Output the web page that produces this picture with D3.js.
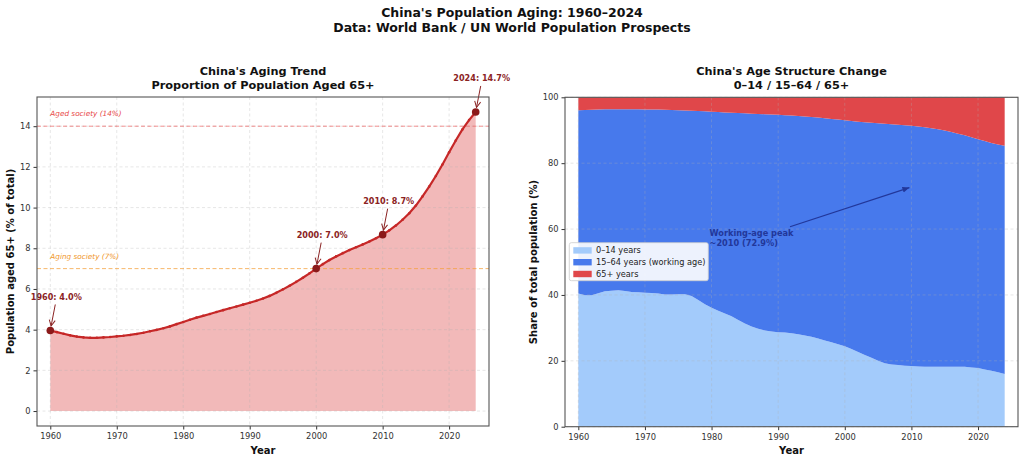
<!DOCTYPE html>
<html><head><meta charset="utf-8">
<script src="https://cdn.jsdelivr.net/npm/d3@7"></script>
<style>body{margin:0;background:#fff}svg{display:block}text{font-family:"DejaVu Sans",sans-serif}</style>
</head><body><svg id="c" width="1024" height="463"></svg>
<script>
// ---------------- DATA ----------------
const years = d3.range(1960, 2025);
const pct65 = [3.96,3.88,3.80,3.72,3.66,3.62,3.60,3.60,3.62,3.64,
  3.67,3.70,3.74,3.79,3.85,3.92,3.99,4.07,4.16,4.27,
  4.38,4.49,4.59,4.68,4.77,4.87,4.96,5.05,5.14,5.23,
  5.32,5.42,5.53,5.66,5.81,5.98,6.16,6.35,6.55,6.77,
  7.00,7.22,7.42,7.60,7.76,7.91,8.05,8.19,8.33,8.49,
  8.67,8.88,9.12,9.40,9.72,10.10,10.55,11.03,11.55,12.12,
  12.72,13.30,13.84,14.30,14.70];
const pct0_14 = [40.4,39.9,39.9,40.5,41.1,41.3,41.4,41.2,40.9,40.8,
  40.7,40.6,40.4,40.1,40.1,40.2,40.2,39.7,38.5,37.2,
  36.1,35.2,34.4,33.5,32.4,31.3,30.4,29.7,29.2,28.9,
  28.7,28.6,28.4,28.1,27.7,27.3,26.8,26.2,25.6,25.0,
  24.4,23.6,22.7,21.8,20.9,20.0,19.3,18.9,18.7,18.5,
  18.4,18.3,18.2,18.2,18.2,18.2,18.2,18.2,18.2,18.0,
  17.8,17.4,17.0,16.5,16.0];
const pct15_64 = [55.64,56.22,56.30,55.78,55.24,55.08,55.00,55.20,55.48,55.56,
  55.63,55.70,55.86,56.11,56.05,55.88,55.81,56.23,57.34,58.53,
  59.52,60.31,61.01,61.82,62.83,63.83,64.64,65.25,65.66,65.87,
  65.98,65.98,66.07,66.24,66.49,66.72,67.04,67.45,67.85,68.23,
  68.60,69.18,69.88,70.60,71.34,72.09,72.65,72.91,72.97,73.01,
  72.93,72.82,72.68,72.40,72.08,71.70,71.25,70.77,70.25,69.88,
  69.48,69.30,69.16,69.20,69.30];
const keyYears = [1960, 2000, 2010, 2024];
const thresholds = [14, 7];
const thresholdLabels = ["Aged society (14%)", "Aging society (7%)"];
const xTickValues = [1960,1970,1980,1990,2000,2010,2020];
const yTicksLeft = [0,2,4,6,8,10,12,14];
const yTicksRight = [0,20,40,60,80,100];
const seriesKeys = ["young","working","old"];
const seriesLabels = ["0–14 years","15–64 years (working age)","65+ years"];
const peakYear = 2010, peakValue = 72.9;
const peakLabel = ["Working-age peak", "~2010 (72.9%)"];

// ---------------- STYLE ----------------
const svg = d3.select("#c");
const seriesColors = ["#a3cbfb","#4779ec","#e0474a"];
const thrColors = ["#ef6a6a","#f5a03a"];
const thrTextColors = ["#e84848","#f0962a"];

svg.append("text").attr("x",512).attr("y",17).attr("text-anchor","middle")
  .attr("font-size",12.5).attr("font-weight","bold").attr("fill","#111").text("China's Population Aging: 1960–2024");
svg.append("text").attr("x",512).attr("y",31.6).attr("text-anchor","middle")
  .attr("font-size",12.5).attr("font-weight","bold").attr("fill","#111").text("Data: World Bank / UN World Population Prospects");

const defs = svg.append("defs");
defs.append("marker").attr("id","arrRed").attr("viewBox","0 0 8 8").attr("refX",7).attr("refY",4)
  .attr("markerWidth",8).attr("markerHeight",8).attr("markerUnits","userSpaceOnUse").attr("orient","auto")
  .append("path").attr("d","M1,1 L7,4 L1,7").attr("fill","none").attr("stroke","#8b2323").attr("stroke-width",1);
defs.append("marker").attr("id","arrBlue").attr("viewBox","0 0 8 8").attr("refX",7).attr("refY",4)
  .attr("markerWidth",8).attr("markerHeight",8).attr("markerUnits","userSpaceOnUse").attr("orient","auto")
  .append("path").attr("d","M0,1 L7,4 L0,7 Z").attr("fill","#22379a");

function grid(g, x, y, xt, yt, x0, x1, y0, y1){
  const gg = g.append("g").attr("stroke","#b0b0b0").attr("stroke-opacity",0.4).attr("stroke-dasharray","3,2.5").attr("stroke-width",0.8);
  xt.forEach(t=>gg.append("line").attr("x1",x(t)).attr("x2",x(t)).attr("y1",y0).attr("y2",y1));
  yt.forEach(t=>gg.append("line").attr("y1",y(t)).attr("y2",y(t)).attr("x1",x0).attr("x2",x1));
}
function axes(g, x, y, yt, x0, x1, y0, y1){
  const ax = g.append("g").attr("transform",`translate(0,${y1})`)
    .call(d3.axisBottom(x).tickValues(xTickValues).tickFormat(d3.format("d")).tickSize(3.5).tickPadding(3.5));
  const ay = g.append("g").attr("transform",`translate(${x0},0)`)
    .call(d3.axisLeft(y).tickValues(yt).tickFormat(d3.format("d")).tickSize(3.5).tickPadding(3));
  [ax,ay].forEach(a=>{
    a.select(".domain").remove();
    a.selectAll("line").attr("stroke","#333");
    a.selectAll("text").attr("font-size",8.3).attr("fill","#333").attr("font-family","DejaVu Sans");
  });
  g.append("rect").attr("x",x0).attr("y",y0).attr("width",x1-x0).attr("height",y1-y0)
    .attr("fill","none").attr("stroke","#555").attr("stroke-width",1.1);
}

// ---------------- LEFT CHART ----------------
{
  const x0=37, x1=489, y0=97, y1=426;
  const x = d3.scaleLinear().domain([1958,2026]).range([x0,x1]);
  const y = d3.scaleLinear().domain([-0.735,15.435]).range([y1,y0]);
  const g = svg.append("g");
  const data = years.map((yr,i)=>({yr, v:pct65[i]}));

  g.append("path").datum(data).attr("fill","#e57373").attr("fill-opacity",0.5)
    .attr("d", d3.area().x(d=>x(d.yr)).y0(y(0)).y1(d=>y(d.v)));
  grid(g, x, y, xTickValues, yTicksLeft, x0, x1, y0, y1);

  thresholds.forEach((t,i)=>{
    g.append("line").attr("x1",x0).attr("x2",x1).attr("y1",y(t)).attr("y2",y(t))
      .attr("stroke",thrColors[i]).attr("stroke-opacity",0.75).attr("stroke-width",1).attr("stroke-dasharray","4,2.5");
    g.append("text").attr("x",x(1960)).attr("y",y(t)-10).attr("font-size",7.3).attr("font-style","italic")
      .attr("fill",thrTextColors[i]).text(thresholdLabels[i]);
  });

  g.append("path").datum(data).attr("fill","none").attr("stroke","#c62828").attr("stroke-width",2.2)
    .attr("d", d3.line().x(d=>x(d.yr)).y(d=>y(d.v)));
  g.selectAll(".m").data(data).join("circle").attr("cx",d=>x(d.yr)).attr("cy",d=>y(d.v)).attr("r",1.3).attr("fill","#c62828");

  keyYears.forEach(k=>{
    const d = data.find(e=>e.yr===k);
    const px=x(d.yr), py=y(d.v);
    g.append("circle").attr("cx",px).attr("cy",py).attr("r",3.8).attr("fill","#8b1a1a");
    g.append("line").attr("x1",px+5).attr("y1",py-26).attr("x2",px+0.8).attr("y2",py-4.5)
      .attr("stroke","#8b2323").attr("stroke-width",1).attr("marker-end","url(#arrRed)");
    g.append("text").attr("x",px+6).attr("y",py-30.5).attr("text-anchor","middle").attr("font-size",8.1)
      .attr("font-weight","bold").attr("fill","#8b2323").text(`${k}: ${d.v.toFixed(1)}%`);
  });

  axes(g, x, y, yTicksLeft, x0, x1, y0, y1);
  g.append("text").attr("x",(x0+x1)/2).attr("y",70.7).attr("dy","0.35em").attr("text-anchor","middle")
    .attr("font-size",11.3).attr("font-weight","bold").attr("fill","#111").text("China's Aging Trend");
  g.append("text").attr("x",(x0+x1)/2).attr("y",85).attr("dy","0.35em").attr("text-anchor","middle")
    .attr("font-size",11.3).attr("font-weight","bold").attr("fill","#111").text("Proportion of Population Aged 65+");
  g.append("text").attr("x",(x0+x1)/2).attr("y",454).attr("text-anchor","middle")
    .attr("font-size",10).attr("font-weight","bold").attr("fill","#111").text("Year");
  g.append("text").attr("transform",`translate(14.3,${(y0+y1)/2}) rotate(-90)`).attr("text-anchor","middle")
    .attr("font-size",10).attr("font-weight","bold").attr("fill","#111").text("Population aged 65+ (% of total)");
}

// ---------------- RIGHT CHART ----------------
{
  const x0=565, x1=1018, y0=97.3, y1=426.7;
  const x = d3.scaleLinear().domain([1958,2026]).range([x0,x1]);
  const y = d3.scaleLinear().domain([0,100]).range([y1,y0]);
  const g = svg.append("g");
  const table = years.map((yr,i)=>({yr, young:pct0_14[i], working:pct15_64[i], old:pct65[i]}));
  const stacked = d3.stack().keys(seriesKeys)(table);
  const area = d3.area().x(d=>x(d.data.yr)).y0(d=>y(d[0])).y1(d=>y(d[1]));
  g.selectAll(".a").data(stacked).join("path").attr("fill",(d,i)=>seriesColors[i]).attr("d",area);

  grid(g, x, y, xTickValues, yTicksRight, x0, x1, y0, y1);

  // annotation
  g.append("line").attr("x1",790).attr("y1",226.7).attr("x2",x(peakYear)-2).attr("y2",y(peakValue)+1)
    .attr("stroke","#22379a").attr("stroke-width",1.2).attr("marker-end","url(#arrBlue)");
  peakLabel.forEach((t,i)=>{
    g.append("text").attr("x",x(1980)-2).attr("y",236.3+i*9.6).attr("font-size",8.2).attr("font-weight","bold")
      .attr("fill","#22379a").text(t);
  });

  // legend
  const lg = g.append("g");
  lg.append("rect").attr("x",569.3).attr("y",242.7).attr("width",139).attr("height",38).attr("rx",2)
    .attr("fill","#fff").attr("fill-opacity",0.9).attr("stroke","#ccc").attr("stroke-width",0.8);
  seriesLabels.forEach((s,i)=>{
    const cy = 250.2 + i*11.8;
    lg.append("rect").attr("x",573.3).attr("y",cy-3).attr("width",18.4).attr("height",6.4).attr("fill",seriesColors[i]);
    lg.append("text").attr("x",596).attr("y",cy).attr("dy","0.35em").attr("font-size",8.2).attr("fill","#222").text(s);
  });

  axes(g, x, y, yTicksRight, x0, x1, y0, y1);
  g.append("text").attr("x",(x0+x1)/2).attr("y",70.7).attr("dy","0.35em").attr("text-anchor","middle")
    .attr("font-size",11.3).attr("font-weight","bold").attr("fill","#111").text("China's Age Structure Change");
  g.append("text").attr("x",(x0+x1)/2).attr("y",85).attr("dy","0.35em").attr("text-anchor","middle")
    .attr("font-size",11.3).attr("font-weight","bold").attr("fill","#111").text("0–14 / 15–64 / 65+");
  g.append("text").attr("x",(x0+x1)/2).attr("y",454).attr("text-anchor","middle")
    .attr("font-size",10).attr("font-weight","bold").attr("fill","#111").text("Year");
  g.append("text").attr("transform",`translate(537,${(y0+y1)/2}) rotate(-90)`).attr("text-anchor","middle")
    .attr("font-size",10).attr("font-weight","bold").attr("fill","#111").text("Share of total population (%)");
}
</script></body></html>
